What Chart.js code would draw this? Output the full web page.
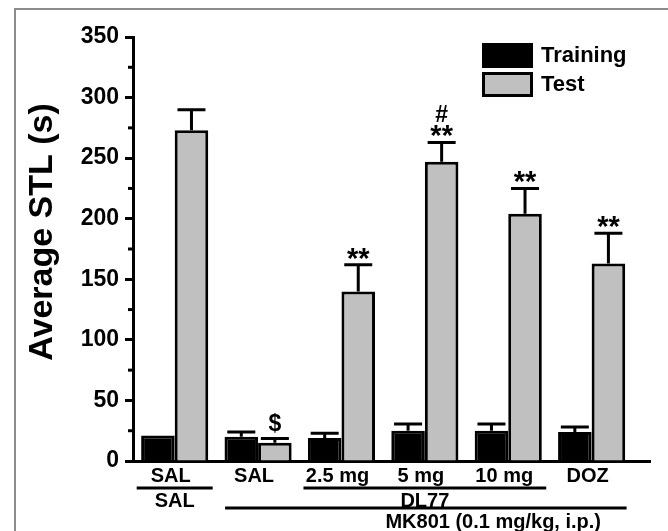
<!DOCTYPE html>
<html>
<head>
<meta charset="utf-8">
<script src="https://cdn.jsdelivr.net/npm/chart.js@4/dist/chart.umd.min.js"></script>
<style>
html, body { margin: 0; padding: 0; background: #fff; }
canvas { display: block; }
</style>
</head>
<body>
<canvas id="chart-area" width="668" height="531"></canvas>
<script>
var categories = ["SAL", "SAL", "2.5 mg", "5 mg", "10 mg", "DOZ"];
var trainingValues = [21, 20, 19, 25, 25, 24];
var trainingErrors = [0, 4, 4, 5.5, 5.5, 4];
var testValues = [273, 15, 140, 247, 204, 163];
var testErrors = [17, 3.5, 22, 16, 21, 25];
var testMarks = ["", "$", "**", "#\n**", "**", "**"];
var yTicks = [0, 50, 100, 150, 200, 250, 300, 350];
var groupLabels = [
    { text: "SAL", from: 0, to: 0, row: 0, textAt: 0 },
    { text: "DL77", from: 2, to: 4, row: 0, textAt: 3 },
    { text: "MK801 (0.1 mg/kg, i.p.)", from: 1, to: 5, row: 1, textAt: 3.82 }
];

var FAMILY = '"Liberation Sans", Arial, sans-serif';

function points(values) {
    return values.map(function(v, i) { return { x: i, y: v }; });
}

// error bars, significance marks, legend, group lines, frame
var extras = {
    id: 'extras',
    beforeDraw: function(chart) {
        var ctx = chart.ctx;
        ctx.save();
        ctx.strokeStyle = '#8c8c8c';
        ctx.lineWidth = 2;
        ctx.beginPath();
        ctx.moveTo(15, 531);
        ctx.lineTo(15, 9);
        ctx.lineTo(668, 9);
        ctx.stroke();
        ctx.restore();
    },
    afterDatasetsDraw: function(chart) {
        var ctx = chart.ctx, y = chart.scales.y;
        ctx.save();
        ctx.strokeStyle = '#000';
        ctx.lineWidth = 3;
        chart.data.datasets.forEach(function(ds, di) {
            var meta = chart.getDatasetMeta(di);
            meta.data.forEach(function(bar, i) {
                var top = y.getPixelForValue(ds.data[i].y + ds.errors[i]);
                if (ds.errors[i] > 0) {
                    ctx.beginPath();
                    ctx.moveTo(bar.x, bar.y);
                    ctx.lineTo(bar.x, top);
                    ctx.moveTo(bar.x - 14, top);
                    ctx.lineTo(bar.x + 14, top);
                    ctx.stroke();
                }
                if (di === 1 && testMarks[i]) {
                    var lines = testMarks[i].split('\n').reverse();
                    var base = null;
                    ctx.fillStyle = '#000';
                    ctx.textAlign = 'center';
                    ctx.textBaseline = 'alphabetic';
                    lines.forEach(function(t) {
                        if (t === '**') {
                            ctx.font = 'bold 29px ' + FAMILY;
                            base = top + 3;
                        } else {
                            ctx.font = 'bold 23px ' + FAMILY;
                            base = base === null ? top - 8 : top - 20;
                        }
                        ctx.fillText(t, bar.x, base);
                    });
                }
            });
        });
        ctx.restore();
    },
    afterDraw: function(chart) {
        var ctx = chart.ctx, y = chart.scales.y, xs = chart.scales.x, area = chart.chartArea;
        ctx.save();
        // minor ticks
        ctx.strokeStyle = '#000';
        ctx.lineWidth = 3;
        for (var k = 0; k < yTicks.length - 1; k++) {
            var py = y.getPixelForValue((yTicks[k] + yTicks[k + 1]) / 2);
            ctx.beginPath();
            ctx.moveTo(area.left - 5, py);
            ctx.lineTo(area.left, py);
            ctx.stroke();
        }
        // y title
        ctx.save();
        ctx.translate(43, 232);
        ctx.rotate(-Math.PI / 2);
        ctx.font = 'bold 34px ' + FAMILY;
        ctx.fillStyle = '#000';
        ctx.textAlign = 'center';
        ctx.textBaseline = 'middle';
        ctx.fillText('Average STL (s)', 0, 0);
        ctx.restore();
        // legend
        chart.data.datasets.forEach(function(ds, i) {
            var ly = 43 + i * 29;
            ctx.fillStyle = ds.backgroundColor;
            ctx.fillRect(482, ly, 51, 25);
            ctx.strokeStyle = ds.borderColor;
            ctx.lineWidth = 3;
            ctx.strokeRect(483.5, ly + 1.5, 48, 22);
            ctx.fillStyle = '#000';
            ctx.font = 'bold 22px ' + FAMILY;
            ctx.textAlign = 'left';
            ctx.textBaseline = 'middle';
            ctx.fillText(ds.label, 541, ly + 13);
        });
        // treatment group lines
        groupLabels.forEach(function(g) {
            var x1, x2, ly, ty;
            if (g.row === 0) {
                x1 = xs.getPixelForValue(g.from) - 38;
                x2 = xs.getPixelForValue(g.to) + 38;
                ly = area.bottom + 27;
                ty = ly + 13;
            } else {
                x1 = xs.getPixelForValue(g.from) - 33;
                x2 = xs.getPixelForValue(g.to) + 35;
                ly = area.bottom + 47;
                ty = ly + 14;
            }
            ctx.strokeStyle = '#000';
            ctx.lineWidth = 3;
            ctx.beginPath();
            ctx.moveTo(x1, ly);
            ctx.lineTo(x2, ly);
            ctx.stroke();
            ctx.fillStyle = '#000';
            ctx.font = 'bold 20px ' + FAMILY;
            ctx.textAlign = 'center';
            ctx.textBaseline = 'middle';
            ctx.fillText(g.text, xs.getPixelForValue(g.textAt), ty);
        });
        ctx.restore();
    }
};

var config = {
    type: 'bar',
    data: {
        datasets: [
            {
                label: 'Training',
                data: points(trainingValues),
                errors: trainingErrors,
                backgroundColor: '#000000',
                borderColor: '#000000',
                borderWidth: 3
            },
            {
                label: 'Test',
                data: points(testValues),
                errors: testErrors,
                backgroundColor: '#c0c0c0',
                borderColor: '#000000',
                borderWidth: 3
            }
        ]
    },
    options: {
        responsive: false,
        animation: false,
        categoryPercentage: 0.805,
        barPercentage: 1.0,
        layout: { padding: { top: 37, right: 18, bottom: 0, left: 0 } },
        plugins: {
            legend: { display: false },
            tooltip: { enabled: false }
        },
        scales: {
            x: {
                type: 'linear',
                min: -0.5,
                max: 5.7,
                offset: false,
                afterBuildTicks: function(axis) {
                    axis.ticks = categories.map(function(c, i) { return { value: i }; });
                },
                afterFit: function(axis) { axis.height = 70; },
                grid: { display: false, drawTicks: false, offset: false },
                border: { display: true, width: 3, color: '#000' },
                ticks: {
                    color: '#000',
                    font: { family: FAMILY, size: 20, weight: 'bold' },
                    padding: 3,
                    labelOffset: -4,
                    maxRotation: 0,
                    autoSkip: false,
                    callback: function(v) { return categories[v]; }
                }
            },
            y: {
                min: 0,
                max: 350,
                afterBuildTicks: function(axis) {
                    axis.ticks = yTicks.map(function(v) { return { value: v }; });
                },
                afterFit: function(axis) { axis.width = 133; },
                grid: { display: true, drawOnChartArea: false, drawTicks: true, tickLength: 8, tickWidth: 3, tickColor: '#000' },
                border: { display: true, width: 3, color: '#000' },
                ticks: {
                    color: '#000',
                    font: { family: FAMILY, size: 23, weight: 'bold' },
                    padding: 6
                }
            }
        }
    },
    plugins: [extras]
};

window.onload = function() {
    var ctx = document.getElementById("chart-area").getContext("2d");
    window.myBar = new Chart(ctx, config);
};
</script>
</body>
</html>
